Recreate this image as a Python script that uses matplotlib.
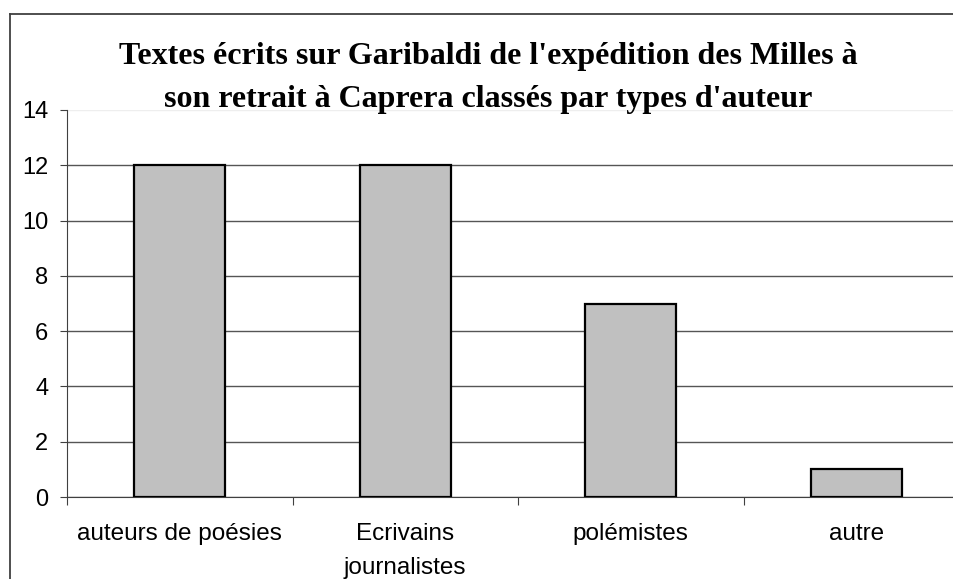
import matplotlib
matplotlib.use("Agg")
import matplotlib.pyplot as plt
from matplotlib.lines import Line2D
import numpy as np

# data
categories = ["auteurs de poésies", "Ecrivains\njournalistes", "polémistes", "autre"]
counts = [12, 12, 7, 1]
yticks = [0, 2, 4, 6, 8, 10, 12, 14]
title_lines = ["Textes écrits sur Garibaldi de l'expédition des Milles à",
               "son retrait à Caprera classés par types d'auteur"]

W, H = 954, 579
fig = plt.figure(figsize=(W / 100, H / 100), dpi=100)

# plot area runs past the right edge (chart is cropped in the source)
x0, x1, ytop, ybot = 67, 969, 110, 497
ax = fig.add_axes([x0 / W, 1 - ybot / H, (x1 - x0) / W, (ybot - ytop) / H])

pos = np.arange(len(categories)) + 0.5
ax.bar(pos, counts, width=0.405, color="#C0C0C0", edgecolor="black", linewidth=1.6, zorder=3)

ax.set_xlim(0, 4)
ax.set_ylim(0, 14)
ax.set_yticks(yticks)
ax.set_yticklabels([str(v) for v in yticks], fontfamily="Liberation Sans", fontsize=17)
ax.yaxis.grid(True, color="#555555", linewidth=1.0, zorder=0)
for gl, v in zip(ax.get_ygridlines(), yticks):
    if v == 14:
        gl.set_color("#eeeeee")
ax.set_axisbelow(True)

ax.set_xticks(np.arange(len(categories)))
ax.set_xticklabels([])
ax.set_xticks(pos, minor=True)
ax.set_xticklabels(categories, minor=True, fontfamily="Liberation Sans", fontsize=17.5, linespacing=1.7)
ax.tick_params(axis="x", which="major", direction="out", length=6, color="#404040")
ax.tick_params(axis="x", which="minor", length=0, pad=18.5)
ax.tick_params(axis="y", direction="out", length=5, color="#404040", pad=8.5)

for s in ["top", "right"]:
    ax.spines[s].set_visible(False)
ax.spines["left"].set_color("#404040")
ax.spines["bottom"].set_color("#404040")

baselines = [64, 107]
for line, yb in zip(title_lines, baselines):
    fig.text(488 / W, 1 - yb / H, line, ha="center", va="baseline", fontfamily="Liberation Serif",
             fontweight="bold", fontsize=23)

# outer chart border (cropped on right and bottom)
bx, by = 10.5 / W, 1 - 14 / H
fig.add_artist(Line2D([bx, 1.05], [by, by], transform=fig.transFigure, color="#404040", linewidth=1.3))
fig.add_artist(Line2D([bx, bx], [-0.05, by], transform=fig.transFigure, color="#404040", linewidth=1.3))

fig.savefig("out.png", dpi=100)
